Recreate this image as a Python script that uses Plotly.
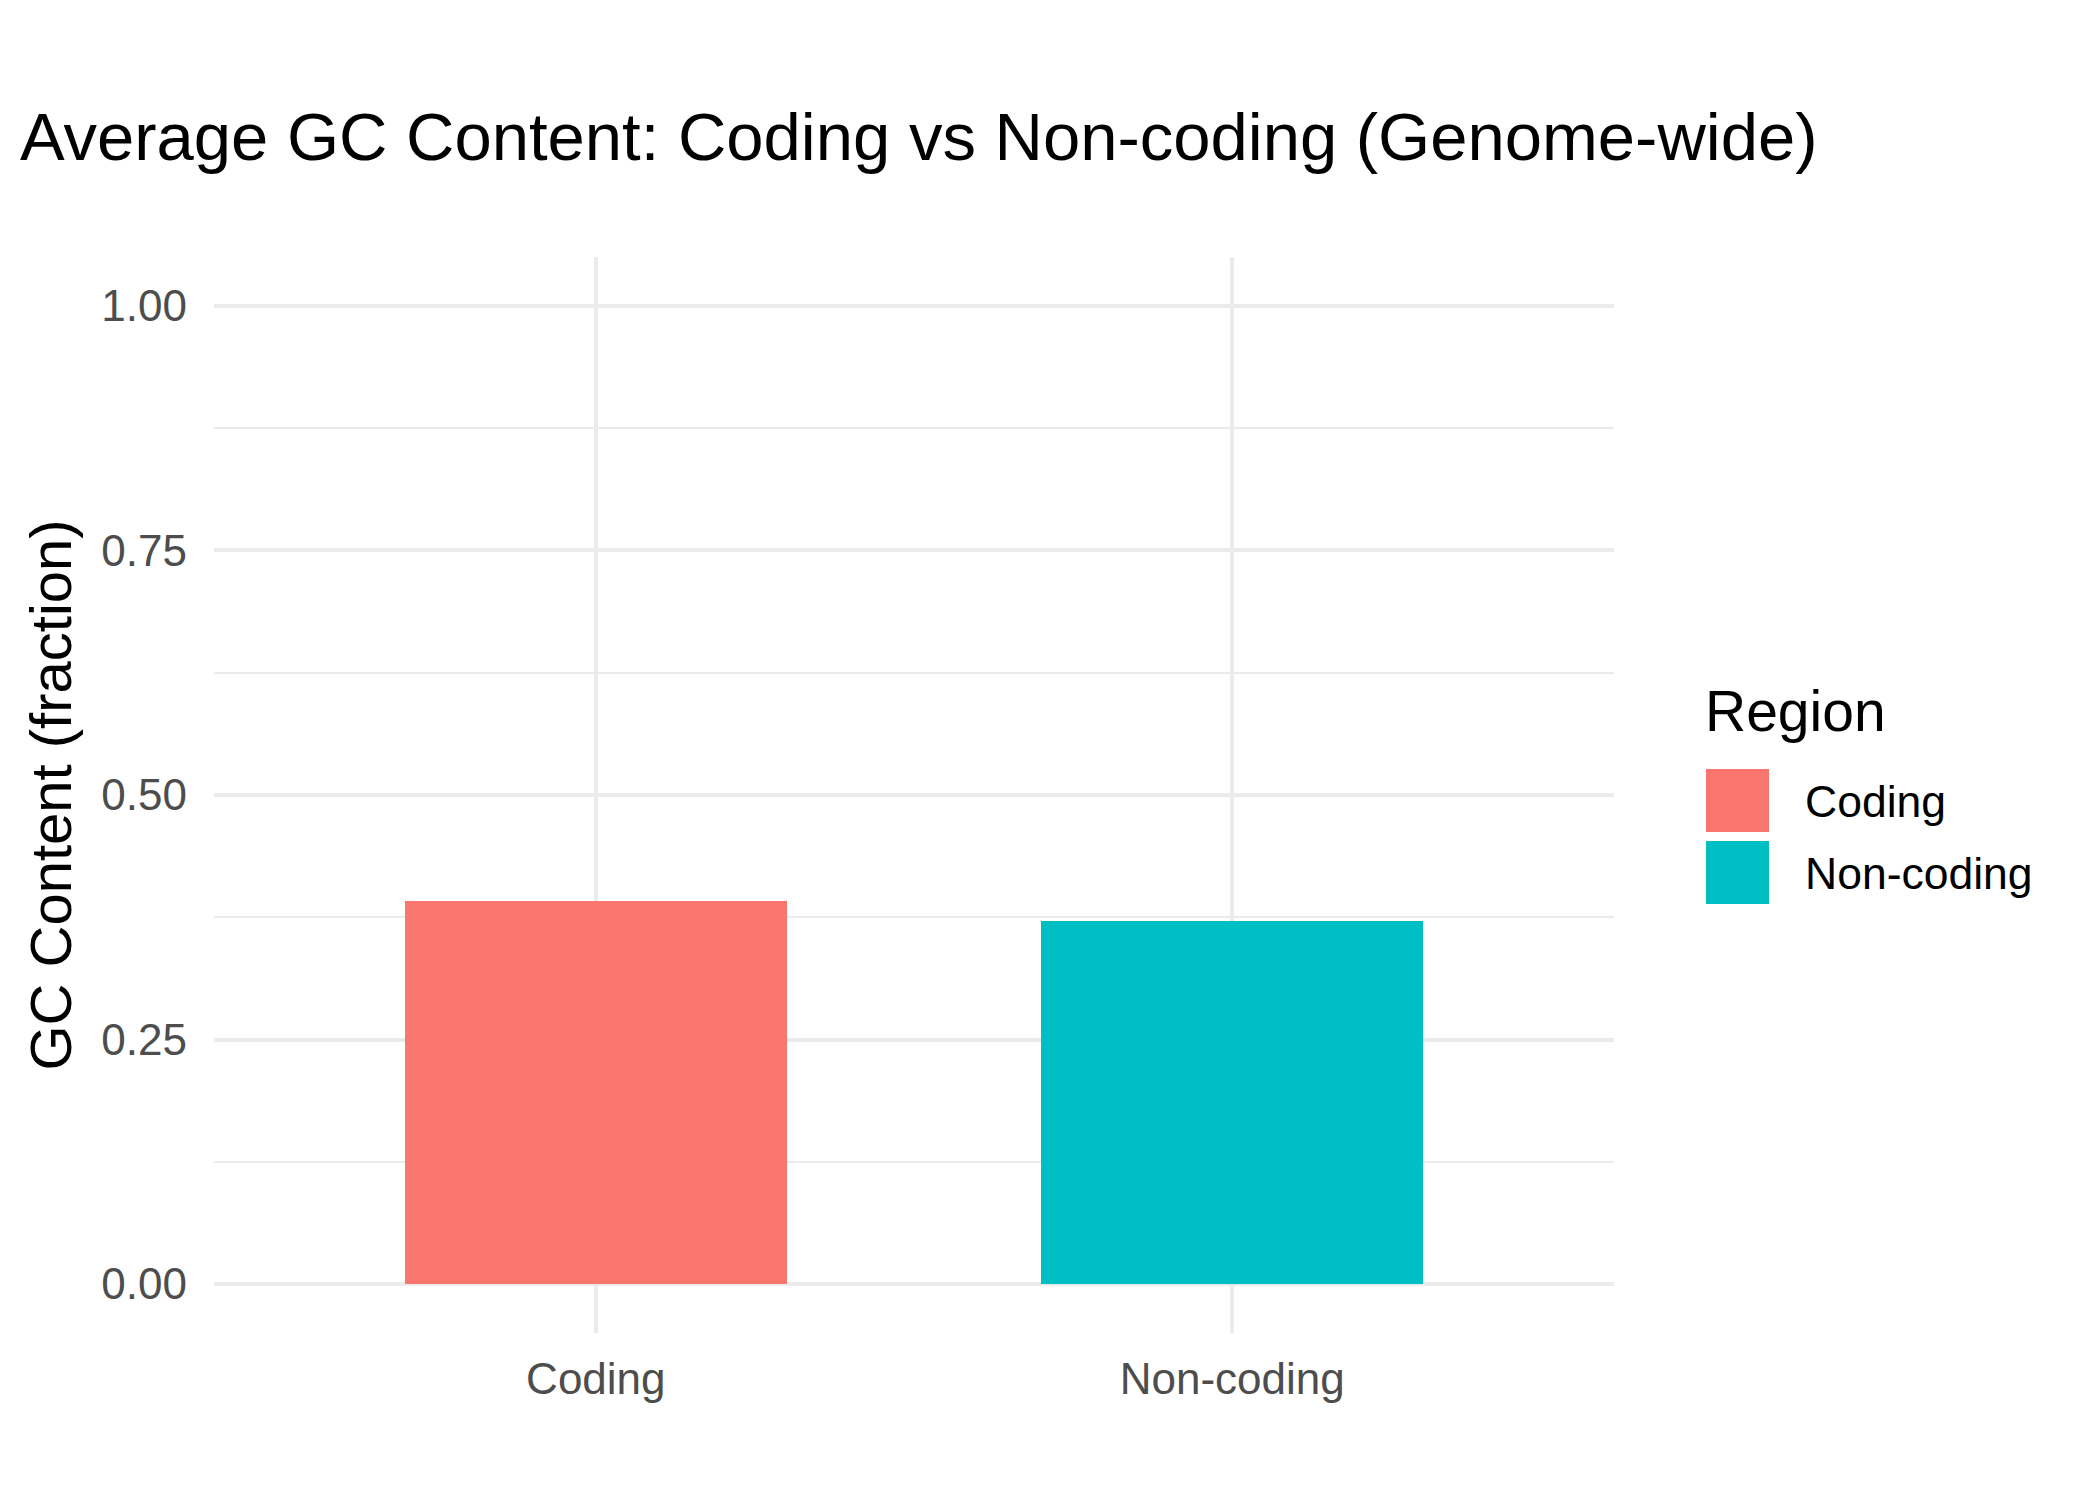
import plotly.graph_objects as go

# ---- data ----
regions = ["Coding", "Non-coding"]
gc_content = [0.392, 0.371]
colors = ["#F8766D", "#00BFC4"]
y_tick_vals = [0.0, 0.25, 0.5, 0.75, 1.0]
y_tick_text = ["0.00", "0.25", "0.50", "0.75", "1.00"]

W, H = 2100, 1500
L, R, T, B = 214, 1614, 257, 1333  # plot area in pixels

FONT = "Liberation Sans, Arial, sans-serif"

fig = go.Figure()
fig.add_trace(go.Bar(
    x=regions, y=gc_content, width=0.6,
    marker=dict(color=colors, line=dict(width=0)),
    showlegend=False,
))


def px_x(px):
    return (px - L) / (R - L)


def px_y(py):
    return (B - py) / (B - T)


shapes = []
annotations = []
# legend title
annotations.append(dict(
    text="Region", xref="paper", yref="paper", x=px_x(1703), y=px_y(711),
    xanchor="left", yanchor="middle", showarrow=False,
    font=dict(family=FONT, size=57, color="#000000"),
))
key_tops = [769, 841]
for name, col, top in zip(regions, colors, key_tops):
    shapes.append(dict(
        type="rect", xref="paper", yref="paper",
        x0=px_x(1706), x1=px_x(1769), y0=px_y(top + 63), y1=px_y(top),
        fillcolor=col, line=dict(width=0), layer="above",
    ))
    annotations.append(dict(
        text=name, xref="paper", yref="paper", x=px_x(1803), y=px_y(top + 32.5),
        xanchor="left", yanchor="middle", showarrow=False,
        font=dict(family=FONT, size=44.5, color="#000000"),
    ))

fig.update_layout(
    width=W, height=H,
    margin=dict(l=L, r=W - R, t=T, b=H - B, autoexpand=False),
    paper_bgcolor="white", plot_bgcolor="white",
    font=dict(family=FONT),
    title=dict(
        text="Average GC Content: Coding vs Non-coding (Genome-wide)",
        xref="container", yref="container", x=20 / W, y=1 - 137 / H,
        xanchor="left", yanchor="middle",
        font=dict(family=FONT, size=67, color="#000000"),
    ),
    xaxis=dict(
        type="category", range=[-0.6, 1.6],
        showgrid=True, gridcolor="#EBEBEB", gridwidth=4.2,
        showline=False, zeroline=False, ticks="",
        tickfont=dict(family=FONT, size=44, color="#4D4D4D"),
        ticklabelstandoff=16,
    ),
    yaxis=dict(
        range=[-0.05, 1.05],
        tickvals=y_tick_vals, ticktext=y_tick_text,
        showgrid=True, gridcolor="#EBEBEB", gridwidth=4.2,
        minor=dict(dtick=0.125, tick0=0.125, showgrid=True,
                   gridcolor="#EBEBEB", gridwidth=2.4, ticks=""),
        showline=False, zeroline=False, ticks="",
        tickfont=dict(family=FONT, size=44, color="#4D4D4D"),
        ticklabelstandoff=26,
        title=dict(text="GC Content (fraction)", standoff=11,
                   font=dict(family=FONT, size=58, color="#000000")),
    ),
    shapes=shapes,
    annotations=annotations,
    showlegend=False,
    bargap=0,
)

fig.write_html("out.html")
